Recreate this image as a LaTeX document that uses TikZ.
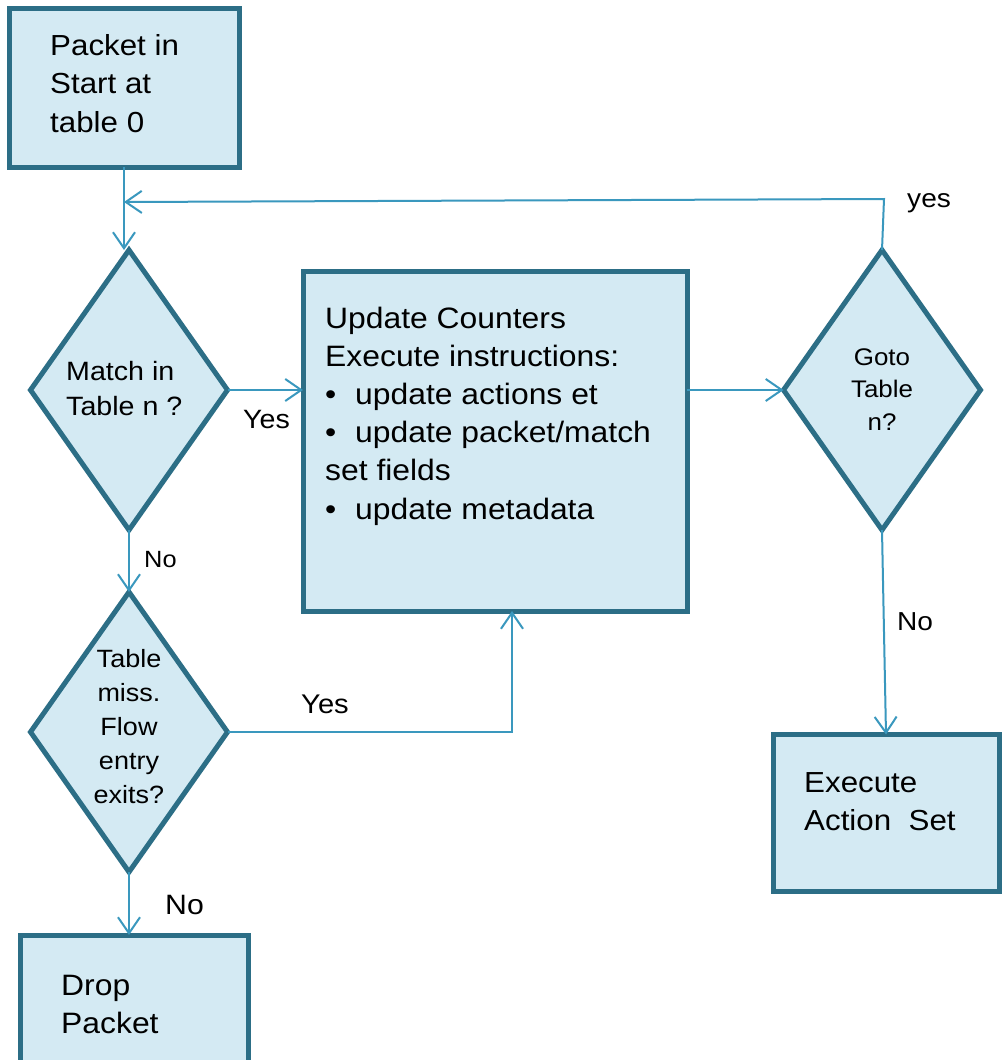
\documentclass[tikz,border=0pt]{standalone}
\usepackage{fontspec}
\setmainfont[FakeStretch=1.08]{Liberation Sans}
\usetikzlibrary{shapes.geometric,arrows.meta}
\definecolor{edgeteal}{RGB}{44,110,134}
\definecolor{boxfill}{RGB}{212,234,243}
\definecolor{linkblue}{RGB}{58,152,190}
\newcommand{\fsz}[2]{\fontsize{#1}{#2}\selectfont}
\newcommand{\blt}{\makebox[30pt][l]{•}}
\begin{document}
\begin{tikzpicture}[x=1pt,y=-1pt,
  procbox/.style={draw=edgeteal,fill=boxfill,line width=5pt,rectangle,inner sep=0pt,outer sep=0pt},
  decision/.style={draw=edgeteal,fill=boxfill,line width=5pt,diamond,inner sep=0pt,outer sep=0pt,
                   minimum width=197pt,minimum height=280pt},
  link/.style={draw=linkblue,line width=2pt,-{Straight Barb[length=16pt,width=22pt]}},
  % multi-line texts are placed by the baseline of their last line
  txt/.style={anchor=base west,inner sep=0pt,align=left,text=black},
  ctxt/.style={anchor=base,inner sep=0pt,align=center,text=black},
]
\useasboundingbox (0,0) rectangle (1002,1060);
\fill[white] (0,0) rectangle (1002,1060);

% process boxes and decisions
\node[procbox,minimum width=230pt,minimum height=159pt] (pin) at (124,87.5) {};
\node[txt,font=\fsz{29}{38.5}] (pintext) at (50,132) {Packet in\\Start at\\table 0};

\node[decision] (match) at (129,390) {};
\node[txt,font=\fsz{26.5}{35}] (matchtext) at (66,415) {Match in\\Table n ?};

\node[procbox,minimum width=384pt,minimum height=340pt] (work) at (495,441) {};
\node[txt,font=\fsz{29.5}{38.2}] (worktext) at (325,519)
  {Update Counters\\Execute instructions:\\\blt update actions et\\\blt update packet/match\\set fields\\\blt update metadata};

\node[decision] (goto) at (882,390) {};
\node[ctxt,font=\fsz{24}{32.5}] (gototext) at (882,430) {Goto\\Table\\n?};

\node[decision] (miss) at (129,732) {};
\node[ctxt,font=\fsz{25}{33.8}] (misstext) at (129,803) {Table\\miss.\\Flow\\entry\\exits?};

\node[procbox,minimum width=226pt,minimum height=157pt] (exec) at (886,813) {};
\node[txt,font=\fsz{29}{38}] (exectext) at (804,830) {Execute\\Action\ \ Set};

\node[procbox,minimum width=228pt,minimum height=132pt] (drop) at (134.5,1001) {};
\node[txt,font=\fsz{29.5}{38}] (droptext) at (61,1033) {Drop\\Packet};

% branch labels
\node[txt,font=\fsz{26.5}{30}] (yes1) at (243,428) {Yes};
\node[txt,font=\fsz{23.5}{28}] (no1) at (144,567) {No};
\node[txt,font=\fsz{26}{30}] (yes2) at (907,207) {yes};
\node[txt,font=\fsz{26}{30}] (no2) at (897,630) {No};
\node[txt,font=\fsz{27}{30}] (yes3) at (301,713) {Yes};
\node[txt,font=\fsz{28}{30}] (no3) at (165,914) {No};

% connectors
\coordinate (merge) at (124,202);
\coordinate (turn) at (884,199);
\coordinate (risex) at (512,732);

\draw[link] (pin.south) -- (pin.south |- match.north);
\draw[link] (goto.north) -- (turn) -- (merge);
\draw[link] (match.east) -- (match.east -| work.west);
\draw[link] (work.east |- goto.west) -- (goto.west);
\draw[link] (goto.south) -- (exec.north);
\draw[link] (match.south) -- (miss.north);
\draw[link] (miss.east) -- (risex) -- (risex |- work.south);
\draw[link] (miss.south) -- (miss.south |- drop.north);
\end{tikzpicture}
\end{document}
